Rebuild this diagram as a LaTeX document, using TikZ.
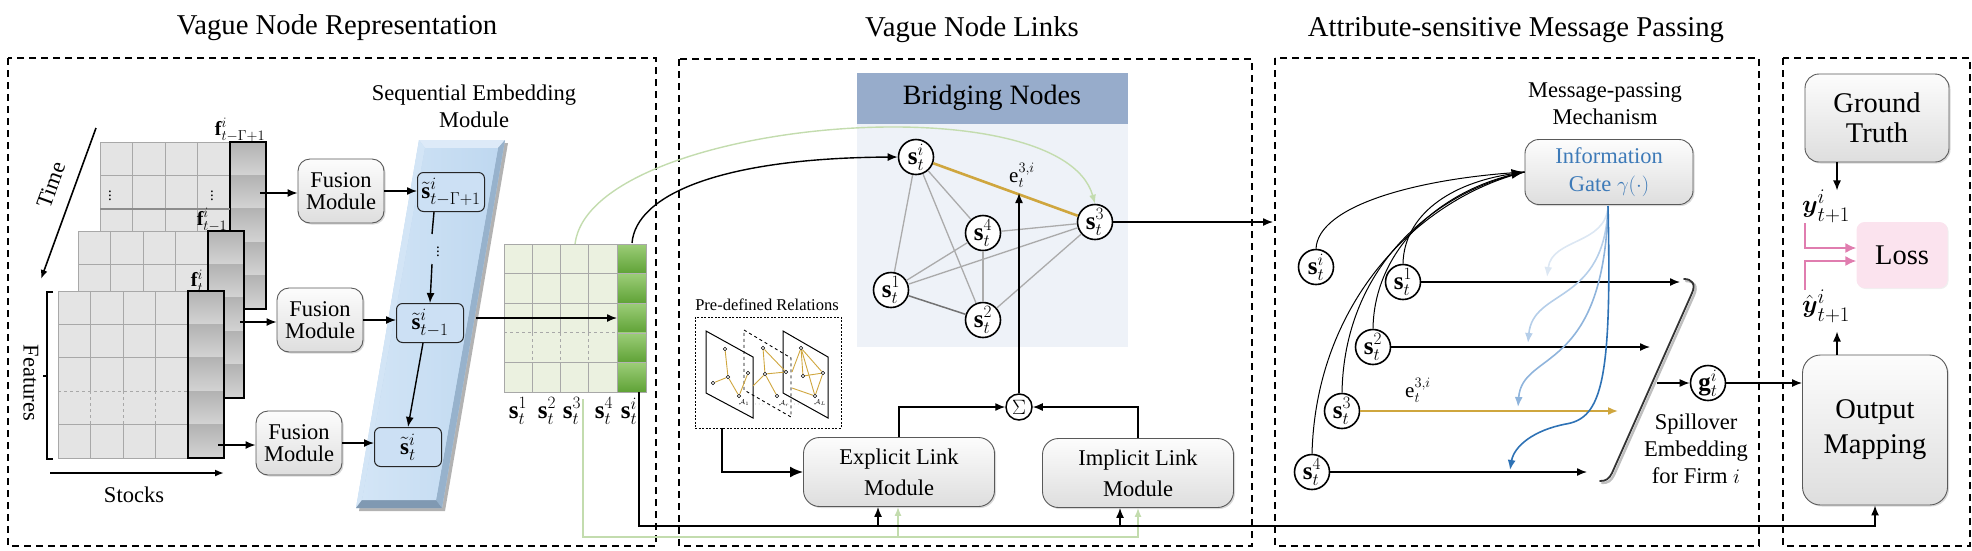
\documentclass[tikz,border=0pt]{standalone}
\usepackage{amsmath,amssymb}
\usepackage{fontspec}
\setmainfont{Liberation Serif}
\usetikzlibrary{arrows.meta,shadows,calc}
\definecolor{gridgray}{HTML}{A8A8A8}
\definecolor{cellgray}{HTML}{E4E4E4}
\definecolor{greencell}{HTML}{EBF1E0}
\definecolor{greendk}{HTML}{5FA236}
\definecolor{greenlt}{HTML}{9CCD78}
\definecolor{greenline}{HTML}{C3DCAE}
\definecolor{tboxblue}{HTML}{CCE0F4}
\definecolor{bridgehead}{HTML}{97ACCB}
\definecolor{bridgebg}{HTML}{EEF2F8}
\definecolor{goldc}{HTML}{CFA63E}
\definecolor{gateblue}{HTML}{3D7AB8}
\definecolor{blueA}{HTML}{DCE7F3}
\definecolor{blueB}{HTML}{B5CEE9}
\definecolor{blueC}{HTML}{8FB4DC}
\definecolor{blueD}{HTML}{2E72B5}
\definecolor{pinkline}{HTML}{E07DAF}
\definecolor{pinkfill}{HTML}{FBE3EE}
\definecolor{edgegray}{HTML}{ABABAB}
\definecolor{bandmain}{HTML}{BFD8F0}
\definecolor{bandtop}{HTML}{DDEAF8}
\definecolor{bandleft}{HTML}{D3E5F6}
\definecolor{bandright}{HTML}{97B2CC}
\definecolor{bandbot}{HTML}{8099B2}

\newcommand{\fsz}[2]{\fontsize{#1}{#2}\selectfont}

\newcommand{\graymat}[2]{%
  \fill[cellgray] (#1,#2) rectangle (#1+130,#2+167);
  \foreach \k in {1,2,3}{
    \draw[gridgray,line width=0.8pt] (#1+\k*32.5,#2) -- (#1+\k*32.5,#2+100.2);
    \draw[gridgray,line width=0.8pt,dashed] (#1+\k*32.5,#2+100.2) -- (#1+\k*32.5,#2+133.6);
    \draw[gridgray,line width=0.8pt] (#1+\k*32.5,#2+133.6) -- (#1+\k*32.5,#2+167);
  }
  \foreach \k in {1,2,4}{
    \draw[gridgray,line width=0.8pt] (#1,#2+\k*33.4) -- (#1+130,#2+\k*33.4);
  }
  \draw[gridgray,line width=0.8pt,dashed] (#1,#2+100.2) -- (#1+130,#2+100.2);
  \draw[gridgray,line width=0.8pt] (#1,#2) rectangle (#1+130,#2+167);
  \foreach \k in {0,...,4}{
    \shade[top color=black!30, bottom color=black!17] (#1+130,#2+\k*33.4) rectangle (#1+166,#2+\k*33.4+33.4);
    \draw[black!30,line width=0.6pt] (#1+130,#2+\k*33.4) -- (#1+166,#2+\k*33.4);
  }
  \draw[line width=2.2pt] (#1+130,#2) rectangle (#1+166,#2+167);
}

\begin{document}
\begin{tikzpicture}[x=1pt,y=-1pt,
  panel/.style={draw=black, line width=2.2pt, dash pattern=on 7pt off 5pt},
  ttl/.style={font=\fsz{28.7}{34}},
  arr/.style={-{Latex[length=10pt,width=8pt]}, line width=1.4pt},
  gbox/.style={draw=black!65, line width=0.9pt, rounded corners=12pt, top color=black!1, bottom color=black!13, align=center, inner sep=0pt, drop shadow={shadow xshift=1.5pt, shadow yshift=-1.5pt, opacity=0.3}},
  tbox/.style={draw=black!85, line width=1pt, rounded corners=6pt, fill=tboxblue, minimum width=67pt, minimum height=39pt, inner sep=0pt, font=\fsz{23}{23}},
  cnode/.style={circle, draw=black, line width=1.6pt, fill=white, minimum size=35pt, inner sep=0pt, font=\fsz{25}{25}},
  lab/.style={font=\fsz{22.5}{27}, align=center, inner sep=0pt},
  mlab/.style={font=\fsz{25}{25}, inner sep=0pt},
  tinyn/.style={circle, draw=black, line width=0.6pt, fill=white, minimum size=3.6pt, inner sep=0pt},
  goldedge/.style={goldc, line width=0.9pt},
]
\useasboundingbox (0,0) rectangle (1972,550);

% ---------- titles ----------
\node[ttl] (t1) at (337,28) {Vague Node Representation};
\node[ttl] (t2) at (972,30) {Vague Node Links};
\node[ttl] (t3) at (1516,30) {Attribute-sensitive Message Passing};

% ---------- panels ----------
\draw[panel] (8,58) rectangle (656,546);
\draw[panel] (679,59) rectangle (1252,546);
\draw[panel] (1275,58) rectangle (1759,546);
\draw[panel] (1783,58) rectangle (1970,546);

% ---------- feature matrices ----------
\graymat{100}{142}
\draw[black!45,line width=1.6pt] (100,208.8) -- (230,208.8);
\node[font=\fsz{15}{15}] at (110,193) {$\vdots$};
\node[font=\fsz{15}{15}] at (212,193) {$\vdots$};
\graymat{78}{231}
\graymat{58}{291}

\node[font=\fsz{20}{20}, inner sep=0pt] (fl1) at (240,130) {$\mathbf{f}^i_{t-\Gamma+1}$};
\node[font=\fsz{20}{20}, inner sep=0pt] (fl2) at (212,220) {$\mathbf{f}^i_{t-1}$};
\node[font=\fsz{20}{20}, inner sep=0pt] (fl3) at (197,281) {$\mathbf{f}^i_t$};

% time arrow
\coordinate (tm1) at (96,128);
\coordinate (tm2) at (41,279);
\draw[-{Latex[length=9pt,width=7pt]}, line width=1.6pt] (tm1) -- (tm2);
\node[font=\fsz{22.5}{22.5}, rotate=70] (timel) at (51,185) {Time};

% features bracket
\coordinate (fb1) at (53,292);
\coordinate (fb2) at (53,459);
\draw[line width=1.5pt] (fb1) -- (47,292) -- (47,459) -- (fb2);
\coordinate (fbm) at (47,376);
\draw[line width=1.5pt] (fbm) -- ++(-4,0);
\node[font=\fsz{22.5}{22.5}, rotate=-90] (featl) at (31,383) {Features};

% stocks arrow
\coordinate (st1) at (50,473);
\coordinate (st2) at (224,473);
\draw[-{Latex[length=9pt,width=7pt]}, line width=2pt] (st1) -- (st2);
\node[font=\fsz{22.5}{22.5}] (stockl) at (134,495) {Stocks};

% ---------- fusion modules ----------
\node[gbox, minimum width=86pt, minimum height=64pt, font=\fsz{22.5}{22}] (f1) at (341,191) {Fusion\\Module};
\node[gbox, minimum width=86pt, minimum height=64pt, font=\fsz{22.5}{22}] (f2) at (320,320) {Fusion\\Module};
\node[gbox, minimum width=86pt, minimum height=64pt, font=\fsz{22.5}{22}] (f3) at (299,443) {Fusion\\Module};
\coordinate (m1o) at (260,193);
\coordinate (m2o) at (240,322);
\coordinate (m3o) at (218,445);
\draw[arr] (m1o) -- (m1o -| f1.west);
\draw[arr] (m2o) -- (m2o -| f2.west);
\draw[arr] (m3o) -- (m3o -| f3.west);

% ---------- sequential embedding band ----------
\fill[black!30] (422,143) -- (508,143) -- (445,511) -- (359,511) -- cycle;
\fill[bandmain] (419,140) -- (505,140) -- (442,508) -- (356,508) -- cycle;
\fill[bandtop] (419,140) -- (505,140) -- (498,148) -- (425,148) -- cycle;
\fill[bandleft] (419,140) -- (425,148) -- (362,500) -- (356,508) -- cycle;
\fill[bandright] (505,140) -- (498,148) -- (436,500) -- (442,508) -- cycle;
\fill[bandbot] (356,508) -- (362,500) -- (436,500) -- (442,508) -- cycle;
\shade[left color=bandleft, right color=bandmain] (425,148) -- (498,148) -- (436,500) -- (362,500) -- cycle;
\node[lab] (sem) at (474,106) {Sequential Embedding\\Module};

\node[tbox] (s1t) at (451,192) {$\tilde{\mathbf{s}}^i_{t-\Gamma+1}$};
\node[tbox] (s2t) at (430,323) {$\tilde{\mathbf{s}}^i_{t-1}$};
\node[tbox] (s3t) at (408,447) {$\tilde{\mathbf{s}}^i_t$};
\draw[arr] (f1.east) -- (f1.east -| s1t.west);
\draw[arr] (f2.east) -- (f2.east -| s2t.west);
\draw[arr] (f3.east) -- (f3.east -| s3t.west);

\coordinate (q1) at (434,212);
\coordinate (q2) at (432,234);
\coordinate (q3) at (432,264);
\coordinate (q4) at (430,303);
\draw[line width=1.4pt] (q1) -- (q2);
\node[font=\fsz{15}{15}] (vd) at (438,249) {$\vdots$};
\draw[arr] (q3) -- (q4);
\coordinate (q5) at (423,343);
\draw[arr] (q5) -- (s3t.north);

% ---------- green matrix ----------
\fill[greencell] (504,244) rectangle (617,392);
\foreach \k in {1,2,3}{
  \draw[gridgray,line width=0.8pt] (504+\k*28.25,244) -- (504+\k*28.25,332.8);
  \draw[gridgray,line width=0.8pt,dashed] (504+\k*28.25,332.8) -- (504+\k*28.25,362.4);
  \draw[gridgray,line width=0.8pt] (504+\k*28.25,362.4) -- (504+\k*28.25,392);
}
\foreach \k in {1,2,4}{
  \draw[gridgray,line width=0.8pt] (504,244+\k*29.6) -- (617,244+\k*29.6);
}
\draw[gridgray,line width=0.8pt,dashed] (504,332.8) -- (617,332.8);
\draw[gridgray,line width=0.8pt] (504,244) rectangle (617,392);
\foreach \k in {0,...,4}{
  \shade[top color=greenlt, bottom color=greendk] (617,244+\k*29.6) rectangle (646,244+\k*29.6+29.6);
}
\foreach \k in {1,...,4}{
  \draw[black!30,line width=0.6pt] (617,244+\k*29.6) -- (646,244+\k*29.6);
}
\draw[gridgray,line width=0.8pt] (617,244) rectangle (646,392);

\coordinate (ga) at (476,318);
\coordinate (gb) at (617,318);
\draw[arr] (ga) -- (gb);

\node[mlab] (g1) at (518,411) {$\mathbf{s}^1_t$};
\node[mlab] (g2) at (547,411) {$\mathbf{s}^2_t$};
\node[mlab] (g3) at (572,411) {$\mathbf{s}^3_t$};
\node[mlab] (g4) at (604,411) {$\mathbf{s}^4_t$};
\node[mlab] (g5) at (629,411) {$\mathbf{s}^i_t$};

% ---------- bridging nodes ----------
\fill[bridgebg] (857,124) rectangle (1128,347);
\fill[bridgehead] (857,73) rectangle (1128,124);
\node[font=\fsz{28}{30}] (bh) at (992,98) {Bridging Nodes};

\node[cnode] (bi) at (916,157) {$\mathbf{s}^i_t$};
\node[cnode] (b3) at (1095,222) {$\mathbf{s}^3_t$};
\node[cnode] (b4) at (983,233) {$\mathbf{s}^4_t$};
\node[cnode] (b1) at (891,290) {$\mathbf{s}^1_t$};
\node[cnode] (b2) at (983,320) {$\mathbf{s}^2_t$};
\draw[edgegray, line width=1.3pt] (bi) -- (b1);
\draw[edgegray, line width=1.3pt] (bi) -- (b2);
\draw[edgegray, line width=1.3pt] (bi) -- (b4);
\draw[edgegray, line width=1.3pt] (b4) -- (b1);
\draw[edgegray, line width=1.3pt] (b4) -- (b3);
\draw[edgegray, line width=1.3pt] (b4) -- (b2);
\draw[edgegray, line width=1.3pt] (b1) -- (b3);
\draw[edgegray, line width=1.3pt] (b3) -- (b2);
\draw[black!55, line width=1.5pt] (b1) -- (b2);
\draw[goldc, line width=2.6pt] (bi) -- (b3);
\node[font=\fsz{21}{21}] (el1) at (1022,175) {$\mathrm{e}^{3,i}_t$};

% curves from matrix to bridging nodes
\coordinate (gmtop) at (575,244);
\coordinate (simtop) at (632,243);
\draw[greenline, line width=1.4pt, -{Latex[length=9pt,width=7pt]}] (gmtop) .. controls (590,120) and (1060,80) .. (b3.north);
\draw[arr] (simtop) .. controls (636,195) and (720,158) .. (bi.west);

% arrow to panel 3
\coordinate (b3r) at (1273,222);
\draw[arr] (b3.east) -- (b3r);

% sum and link modules
\node[circle, draw, line width=1.5pt, minimum size=26pt, inner sep=0pt, fill=white, font=\fsz{20}{20}] (sum) at (1019,407) {$\Sigma$};
\coordinate (eup) at (1019,193);
\draw[arr] (sum.north) -- (eup);
\node[gbox, minimum width=191pt, minimum height=69pt, rounded corners=16pt, font=\fsz{22.5}{31}] (expl) at (899,472) {Explicit Link\\Module};
\node[gbox, minimum width=191pt, minimum height=69pt, rounded corners=16pt, font=\fsz{22.5}{31}] (impl) at (1138,473) {Implicit Link\\Module};
\draw[arr] (expl.north) |- (sum.west);
\draw[arr] (impl.north) |- (sum.east);

% pre-defined relations
\node[font=\fsz{16.5}{18}] (pdl) at (767,305) {Pre-defined Relations};
\node[draw, dash pattern=on 2pt off 1.5pt, line width=0.9pt, minimum width=146pt, minimum height=111pt, inner sep=0pt] (pdbox) at (768,372.5) {};
\draw[line width=1pt] (706,331) -- (753,357) -- (753,418) -- (706,393) -- cycle;
\draw[line width=0.9pt, dashed] (744,330) -- (791,358) -- (791,417) -- (744,390) -- cycle;
\draw[line width=1pt] (783,331) -- (828,357) -- (828,418) -- (783,393) -- cycle;
% plane 1
\node[tinyn] (pa1) at (725,349) {};
\node[tinyn] (pa2) at (713,383) {};
\node[tinyn] (pa3) at (728,377) {};
\node[tinyn] (pa4) at (748,373) {};
\node[tinyn] (pa5) at (739,396) {};
\draw[goldedge] (pa1) -- (pa3);
\draw[goldedge] (pa2) -- (pa3);
\draw[goldedge] (pa3) -- (pa5);
\draw[goldedge] (pa5) -- (pa4);
% plane 2
\node[tinyn] (pb1) at (763,348) {};
\node[tinyn] (pb2) at (765,374) {};
\node[tinyn] (pb3) at (786,372) {};
\node[tinyn] (pb4) at (777,396) {};
\coordinate (pb5) at (753,386);
\draw[goldedge] (pb1) -- (pb2);
\draw[goldedge] (pb1) -- (pb3);
\draw[goldedge] (pb2) -- (pb3);
\draw[goldedge] (pb2) -- (pb4);
\draw[goldedge] (pb2) -- (pb5);
% plane 3
\node[tinyn] (pc1) at (801,348) {};
\node[tinyn] (pc2) at (803,376) {};
\node[tinyn] (pc3) at (823,373) {};
\node[tinyn] (pc4) at (815,396) {};
\coordinate (pc5) at (792,388);
\coordinate (pc6) at (792,372);
\draw[goldedge] (pc1) -- (pc2);
\draw[goldedge] (pc1) -- (pc3);
\draw[goldedge] (pc1) -- (pc4);
\draw[goldedge] (pc2) -- (pc3);
\draw[goldedge] (pc3) -- (pc4);
\draw[goldedge] (pc4) -- (pc5);
\draw[goldedge] (pc1) -- (pc6);
\node[font=\fsz{7}{7}, inner sep=0pt] (pl1) at (744,403) {$\mathcal{A}_1$};
\node[font=\fsz{7}{7}, inner sep=0pt] (pl2) at (784,404) {$\mathcal{A}_r$};
\node[font=\fsz{7}{7}, inner sep=0pt] (pl3) at (820,403) {$\mathcal{A}_L$};
\node[font=\fsz{8}{8}, text=black!50, inner sep=0pt] (pd1) at (760,405) {$\cdots$};
\node[font=\fsz{8}{8}, text=black!50, inner sep=0pt] (pd2) at (799,405) {$\cdots$};
\coordinate (pdstart) at (722,428);
\draw[line width=2pt, -{Latex[length=13pt,width=11pt]}] (pdstart) |- (expl.west);

% bottom lines
\coordinate (sibot) at (639,392);
\coordinate (bl) at (639,526);
\coordinate (eb) at (878,526);
\coordinate (ib) at (1120,526);
\coordinate (gltop2) at (583,399);
\coordinate (glb) at (583,537);
\coordinate (egb) at (898,537);
\draw[greenline, line width=1.4pt, -{Latex[length=9pt,width=7pt]}] (gltop2) -- (glb) -| (impl.south);
\draw[greenline, line width=1.4pt, -{Latex[length=9pt,width=7pt]}] (egb) -- (egb |- expl.south);
\draw[arr] (eb) -- (eb |- expl.south);
\draw[arr] (ib) -- (ib |- impl.south);

% ---------- message passing ----------
\node[lab] (mpm) at (1605,104) {Message-passing\\Mechanism};
\node[gbox, minimum width=168pt, minimum height=65pt, rounded corners=14pt, font=\fsz{22.5}{28}, text=gateblue] (gate) at (1609,172) {Information\\Gate $\gamma(\cdot)$};

\node[cnode] (mi) at (1316,267) {$\mathbf{s}^i_t$};
\node[cnode] (m1) at (1403,282) {$\mathbf{s}^1_t$};
\node[cnode] (m2) at (1373,347) {$\mathbf{s}^2_t$};
\node[cnode] (m3) at (1342,411) {$\mathbf{s}^3_t$};
\node[cnode] (m4) at (1312,472) {$\mathbf{s}^4_t$};

\draw[line width=1pt] (mi.north) .. controls (1318,205) and (1420,178) .. (gate.west);
\draw[line width=1pt, -{Latex[length=13pt,width=10pt]}] (m1.north) .. controls (1404,215) and (1450,183) .. (gate.west);
\draw[line width=1pt] (m2.north) .. controls (1374,250) and (1440,188) .. (gate.west);
\draw[line width=1pt] (m3.north) .. controls (1344,270) and (1430,193) .. (gate.west);
\draw[line width=1pt] (m4.north) .. controls (1316,300) and (1420,198) .. (gate.west);

\coordinate (h1) at (1680,282);
\coordinate (h2) at (1650,347);
\coordinate (h3) at (1618,411);
\coordinate (h4) at (1587,472);
\draw[arr] (m1.east) -- (h1);
\draw[arr] (m2.east) -- (h2);
\draw[goldc, line width=1.6pt, -{Latex[length=10pt,width=8pt]}] (m3.east) -- (h3);
\draw[arr] (m4.east) -- (h4);
\node[font=\fsz{21}{21}] (el2) at (1418,390) {$\mathrm{e}^{3,i}_t$};

% blue gate curves
\coordinate (gs) at (1608,206);
\coordinate (bc1) at (1547,277);
\coordinate (bc2) at (1528,343);
\coordinate (bc3) at (1518,407);
\coordinate (bc4) at (1510,470);
\draw[blueA, line width=1.6pt, -{Latex[length=10pt,width=8pt]}] (gs) .. controls (1606,245) and (1552,238) .. (bc1);
\draw[blueB, line width=1.6pt, -{Latex[length=10pt,width=8pt]}] (gs) .. controls (1605,305) and (1533,288) .. (bc2);
\draw[blueC, line width=1.6pt, -{Latex[length=10pt,width=8pt]}] (gs) .. controls (1604,375) and (1522,350) .. (bc3);
\draw[blueD, line width=1.6pt, -{Latex[length=10pt,width=8pt]}] (gs) .. controls (1612,380) and (1602,418) .. (1566,424) .. controls (1534,430) and (1514,446) .. (bc4);

% spillover embedding
\draw[black!25, line width=2.4pt, line cap=round] (1686,281) .. controls (1694,281) and (1698,286) .. (1694,295) -- (1614,475) .. controls (1611,481) and (1608,483) .. (1602,483);
\draw[black!80, line width=1.8pt, line cap=round] (1684,279) .. controls (1692,279) and (1696,284) .. (1692,293) -- (1612,473) .. controls (1609,479) and (1606,481) .. (1600,481);
\node[lab] (spt) at (1696,449) {Spillover\\Embedding\\for Firm $i$};
\node[cnode] (g) at (1708,383) {$\mathbf{g}^i_t$};
\coordinate (sp) at (1657,383);
\draw[arr] (sp) -- (g.west);

% ---------- output panel ----------
\node[gbox, minimum width=144pt, minimum height=88pt, rounded corners=14pt, font=\fsz{28.5}{30}] (gt) at (1877,118) {Ground\\Truth};
\node[fill=pinkfill, rounded corners=8pt, minimum width=91pt, minimum height=66pt, font=\fsz{28.5}{30}, drop shadow={shadow xshift=1pt, shadow yshift=-1pt, opacity=0.12}] (loss) at (1902,255) {Loss};
\node[gbox, minimum width=145pt, minimum height=150pt, rounded corners=18pt, font=\fsz{28.5}{35}] (om) at (1875,430) {Output\\Mapping};
\node[font=\fsz{28}{28}, inner sep=0pt] (ylab) at (1826,206) {$\boldsymbol{y}^i_{t+1}$};
\node[font=\fsz{28}{28}, inner sep=0pt] (yhat) at (1826,306) {$\hat{\boldsymbol{y}}^i_{t+1}$};
\draw[arr] ($(gt.south)+(-40,0)$) -- ++(0,28);
\draw[arr] ($(om.north)+(-38,0)$) -- ++(0,-23);
\coordinate (pk1) at (1805,223);
\coordinate (pk2) at (1805,290);
\draw[pinkline, line width=1.6pt, -{Latex[length=11pt,width=10pt]}] (pk1) |- ($(loss.west)+(0,-7)$);
\draw[pinkline, line width=1.6pt, -{Latex[length=11pt,width=10pt]}] (pk2) |- ($(loss.west)+(0,6)$);
\draw[arr] (g.east) -- (g.east -| om.west);
\draw[arr] (sibot) -- (bl) -| (om.south);

\end{tikzpicture}
\end{document}
